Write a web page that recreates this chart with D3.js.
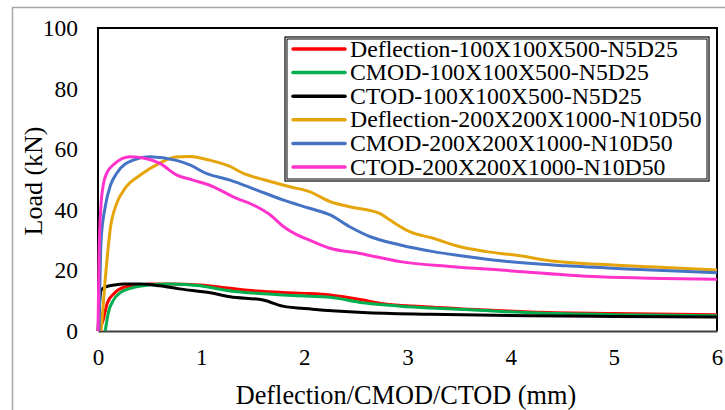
<!DOCTYPE html>
<html><head><meta charset="utf-8">
<script src="https://cdn.jsdelivr.net/npm/d3@7"></script>
<style>body{margin:0;background:#fff}svg{display:block}</style>
</head><body><svg id="c" width="725" height="410"></svg>
<script>
const FONT = "'Liberation Serif', Tinos, 'Times New Roman', 'DejaVu Serif', serif";
const seriesNames = ["Deflection-100X100X500-N5D25","CMOD-100X100X500-N5D25","CTOD-100X100X500-N5D25","Deflection-200X200X1000-N10D50","CMOD-200X200X1000-N10D50","CTOD-200X200X1000-N10D50"];
const seriesColors = ["#ff0000","#00b050","#000000","#e5a50a","#4472c4","#ff33cc"];
const xTicks = [0,1,2,3,4,5,6];
const yTicks = [0,20,40,60,80,100];

const defl100X = [0.01,0.05,0.09,0.16,0.26,0.41,0.5,0.7,0.99,1.28,1.54,1.96,2.25,2.57,2.73,3.22,3.6,4.19,5.0,6.0];
const defl100Y = [0,3.6,9.2,12.5,14.5,15.2,15.5,15.5,15.2,14.1,13.2,12.5,11.9,10.2,9.2,7.9,7.2,6.3,5.8,5.4];
const cmod100X = [0.07,0.1,0.15,0.21,0.36,0.5,0.7,0.99,1.28,1.6,1.96,2.25,2.57,2.93,3.22,3.6,4.19,5.0,6.0];
const cmod100Y = [0,6,10.2,12.5,14.5,15.2,15.5,14.9,13.2,12.3,11.6,11.1,9.3,8.2,7.6,7.0,6.0,5.4,5.0];
const ctod100X = [0.0,0.03,0.07,0.16,0.26,0.41,0.6,0.79,1.09,1.28,1.6,1.79,2.08,2.57,3.22,4.19,5.0,6.0];
const ctod100Y = [0,13.5,14.5,15.2,15.5,15.5,14.9,13.9,12.6,11.3,10.2,8.2,7.2,6.1,5.5,5.0,4.8,4.6];
const defl200X = [0.03,0.07,0.12,0.18,0.26,0.41,0.6,0.75,0.89,1.09,1.28,1.41,1.6,1.86,2.05,2.25,2.44,2.73,2.83,3.02,3.25,3.51,3.77,4.09,4.38,4.86,5.35,6.0];
const defl200Y = [0,17,34,42,47,51.5,55.4,57.4,57.6,56.3,54.3,52,50,47.6,46,42.7,41,38.8,36.6,32.8,30.6,27.8,26.2,24.8,23.2,22,21.2,20.1];
const cmod200X = [0.01,0.03,0.07,0.12,0.18,0.34,0.5,0.76,0.89,1.05,1.28,1.54,1.8,2.05,2.25,2.44,2.64,2.93,3.25,3.57,3.9,4.54,5.19,6.0];
const cmod200Y = [0,30,41,48,52,56.4,57.5,56.3,54.8,52,49.8,46.5,43.2,40.5,38.3,34.4,31.1,28.4,26.2,24.6,23.2,21.5,20.4,19.2];
const ctod200X = [0,0.01,0.03,0.05,0.084,0.165,0.31,0.45,0.6,0.76,0.92,1.12,1.31,1.54,1.67,1.8,1.93,2.05,2.25,2.54,2.93,3.41,3.9,4.86,6.0];
const ctod200Y = [0,25,42,48,52,55.3,57.5,57,55.3,51.5,49.8,47.6,44.3,41,38.3,34.4,31.7,30,27.3,25.6,22.9,21.3,20.1,17.9,17.1];

const seriesX = [defl100X,cmod100X,ctod100X,defl200X,cmod200X,ctod200X];
const seriesY = [defl100Y,cmod100Y,ctod100Y,defl200Y,cmod200Y,ctod200Y];

const svg = d3.select("#c");
const L=98, R=717, T=28, B=331;
const x = d3.scaleLinear().domain([0,6]).range([L,R]);
const y = d3.scaleLinear().domain([0,100]).range([B,T]);

svg.append("path").attr("d","M12.5,410 V7.5 H725").attr("fill","none").attr("stroke","#a6a6a6").attr("stroke-width",1.5);
svg.append("path").attr("d",`M${L},${B} V${T} H${R} V${B}`).attr("fill","none").attr("stroke","#000").attr("stroke-width",2);

const xAxis = svg.append("g").attr("transform",`translate(0,${B})`)
  .call(d3.axisBottom(x).tickValues(xTicks).tickFormat(d3.format("d")).tickSize(0).tickPadding(18));
xAxis.attr("font-family",FONT).attr("font-size",23);
xAxis.select(".domain").attr("stroke","#404040").attr("stroke-width",2);
xAxis.selectAll("text").attr("fill","#000");
const yAxis = svg.append("g").attr("transform",`translate(${L},0)`)
  .call(d3.axisLeft(y).tickValues(yTicks).tickFormat(d3.format("d")).tickSize(0).tickPadding(20));
yAxis.attr("font-family",FONT).attr("font-size",23.5);
yAxis.select(".domain").remove();
yAxis.selectAll("text").attr("fill","#000");

const line = d3.line().x(d=>x(d[0])).y(d=>y(d[1])).curve(d3.curveMonotoneX);
seriesX.forEach((xs,i)=>{
  const pts = xs.map((v,j)=>[v,seriesY[i][j]]);
  svg.append("path").datum(pts).attr("d",line).attr("fill","none")
    .attr("stroke",seriesColors[i]).attr("stroke-width",3).attr("stroke-linejoin","round");
});

svg.append("rect").attr("x",285).attr("y",37).attr("width",424).attr("height",144).attr("fill","#fff").attr("stroke","#000").attr("stroke-width",1.2);
svg.append("rect").attr("x",287).attr("y",39).attr("width",420).attr("height",140).attr("fill","none").attr("stroke","#000").attr("stroke-width",1);
seriesNames.forEach((n,i)=>{
  const cy = 49 + i*23.6;
  svg.append("line").attr("x1",293).attr("x2",345).attr("y1",cy).attr("y2",cy).attr("stroke",seriesColors[i]).attr("stroke-width",3.5).attr("stroke-linecap","round");
  svg.append("text").attr("x",350).attr("y",cy+7.5).attr("font-family",FONT).attr("font-size",23.8).text(n);
});

svg.append("text").attr("x",406).attr("y",404).attr("text-anchor","middle").attr("font-family",FONT).attr("font-size",26.3).text("Deflection/CMOD/CTOD (mm)");
svg.append("text").attr("transform","translate(42,181) rotate(-90)").attr("text-anchor","middle").attr("font-family",FONT).attr("font-size",26).text("Load (kN)");
</script></body></html>
